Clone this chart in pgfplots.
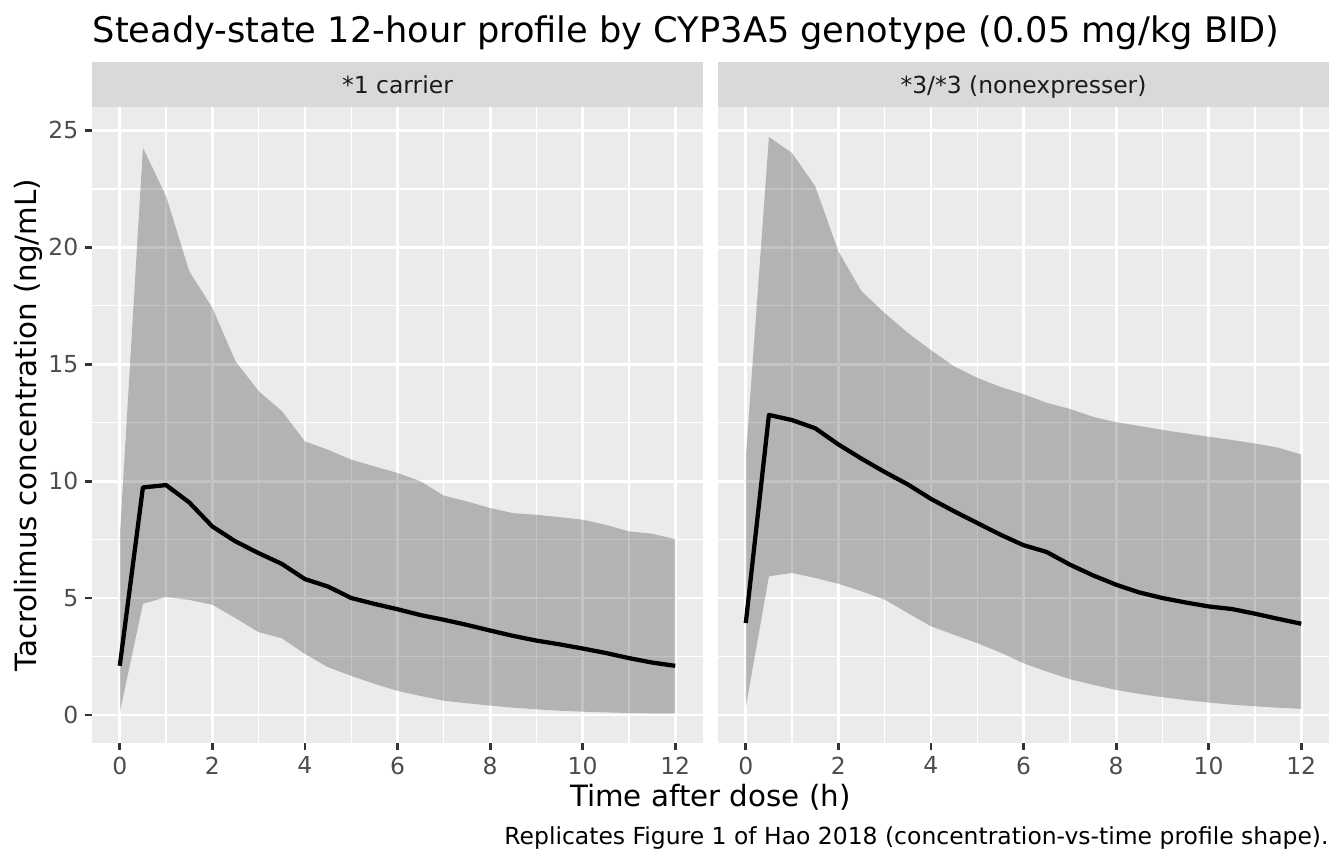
\documentclass[border=0pt]{standalone}
\usepackage{fontspec}
\setmainfont{DejaVu Sans}
\usepackage{pgfplots}
\pgfplotsset{compat=1.18}
\usepackage{pgfplotstable}
\usepgfplotslibrary{fillbetween}

\definecolor{panelbg}{HTML}{EBEBEB}
\definecolor{stripbg}{HTML}{D9D9D9}
\definecolor{tickl}{HTML}{4D4D4D}
\definecolor{tickc}{HTML}{333333}
\definecolor{stript}{HTML}{1A1A1A}

\pgfplotstableread{
t lo med hi
0 0.10 2.10 7.60
0.5 4.75 9.73 24.26
1 5.04 9.83 22.19
1.5 4.92 9.09 18.98
2 4.71 8.06 17.41
2.5 4.14 7.42 15.13
3 3.54 6.92 13.85
3.5 3.28 6.46 13.00
4 2.61 5.81 11.70
4.5 2.04 5.49 11.34
5 1.67 5.00 10.92
5.5 1.33 4.75 10.63
6 1.03 4.52 10.35
6.5 0.81 4.27 9.99
7 0.61 4.07 9.38
7.5 0.50 3.85 9.13
8 0.40 3.61 8.85
8.5 0.31 3.38 8.63
9 0.24 3.18 8.56
9.5 0.18 3.02 8.46
10 0.14 2.84 8.35
10.5 0.11 2.65 8.13
11 0.08 2.43 7.85
11.5 0.07 2.24 7.75
12 0.07 2.10 7.52
}\carrier

\pgfplotstableread{
t lo med hi
0 0.33 3.93 11.00
0.5 5.93 12.83 24.72
1 6.07 12.61 24.03
1.5 5.86 12.26 22.61
2 5.61 11.57 19.83
2.5 5.29 10.96 18.12
3 4.93 10.39 17.19
3.5 4.36 9.86 16.34
4 3.79 9.24 15.60
4.5 3.43 8.71 14.91
5 3.07 8.21 14.42
5.5 2.67 7.71 14.03
6 2.21 7.26 13.72
6.5 1.86 6.97 13.35
7 1.53 6.43 13.09
7.5 1.29 5.97 12.75
8 1.07 5.57 12.52
8.5 0.90 5.24 12.36
9 0.76 5.00 12.19
9.5 0.64 4.81 12.04
10 0.53 4.64 11.90
10.5 0.44 4.53 11.76
11 0.37 4.33 11.61
11.5 0.31 4.11 11.43
12 0.26 3.90 11.14
}\nonexp

\pgfplotsset{gg/.style={
  scale only axis, width=229.125bp, height=238.5bp, anchor=south west,
  xmin=-0.6, xmax=12.6, ymin=-1.2, ymax=26.0,
  axis background/.style={fill=panelbg},
  axis line style={draw=none},
  xtick={0,2,...,12}, ytick={0,5,...,25},
  minor xtick={1,3,...,11}, minor ytick={2.5,7.5,...,22.5},
  grid=both,
  major grid style={draw=white, line width=1.07bp},
  minor grid style={draw=white, line width=0.53bp},
  tick align=outside, major tick length=2.74bp, minor tick length=0.01pt,
  major tick style={draw=tickc, line width=1.07bp},
  minor tick style={draw=none},
  tick pos=left,
  /pgf/number format/assume math mode=true,
  ticklabel style={font=\fontsize{8.83}{10}\selectfont, text=tickl},
  xticklabel style={inner sep=0pt, yshift=-2.2bp},
  yticklabel style={inner sep=0pt, xshift=-2.2bp},
}}

\begin{document}
\begin{tikzpicture}
\path (0,0) rectangle (504bp,324bp);

\begin{axis}[gg, at={(34.5bp,45.375bp)}]
  \addplot[name path=hiA, draw=none] table[x=t,y=hi]{\carrier};
  \addplot[name path=loA, draw=none] table[x=t,y=lo]{\carrier};
  \addplot[fill=black, fill opacity=0.235, draw=none] fill between[of=hiA and loA];
  \addplot[black, line width=1.6bp, line join=round] table[x=t,y=med]{\carrier};
\end{axis}

\begin{axis}[gg, at={(269.25bp,45.375bp)}, yticklabels={}, ytick style={draw=none}]
  \addplot[name path=hiB, draw=none] table[x=t,y=hi]{\nonexp};
  \addplot[name path=loB, draw=none] table[x=t,y=lo]{\nonexp};
  \addplot[fill=black, fill opacity=0.235, draw=none] fill between[of=hiB and loB];
  \addplot[black, line width=1.6bp, line join=round] table[x=t,y=med]{\nonexp};
\end{axis}

% strips
\fill[stripbg] (34.5bp,283.875bp) rectangle (263.625bp,300.75bp);
\fill[stripbg] (269.25bp,283.875bp) rectangle (498.375bp,300.75bp);
\node[anchor=base, text=stript, font=\fontsize{8.83}{10}\selectfont, inner sep=0pt] at (149.06bp,288.75bp) {*1 carrier};
\node[anchor=base, text=stript, font=\fontsize{8.83}{10}\selectfont, inner sep=0pt] at (383.81bp,288.75bp) {*3/*3 (nonexpresser)};

% title
\node[anchor=base west, inner sep=0pt, font=\fontsize{13.25}{15}\selectfont] at (34.6bp,308.2bp) {Steady-state 12-hour profile by CYP3A5 genotype (0.05 mg/kg BID)};
% axis titles
\node[anchor=base, inner sep=0pt, font=\fontsize{11.04}{13}\selectfont] at (266.4bp,21.5bp) {Time after dose (h)};
\node[anchor=base, rotate=90, inner sep=0pt, font=\fontsize{11.04}{13}\selectfont] at (13.7bp,164.6bp) {Tacrolimus concentration (ng/mL)};
% caption
\node[anchor=base east, inner sep=0pt, font=\fontsize{8.83}{10}\selectfont] at (498.4bp,7.5bp) {Replicates Figure 1 of Hao 2018 (concentration-vs-time profile shape).};
\end{tikzpicture}
\end{document}
